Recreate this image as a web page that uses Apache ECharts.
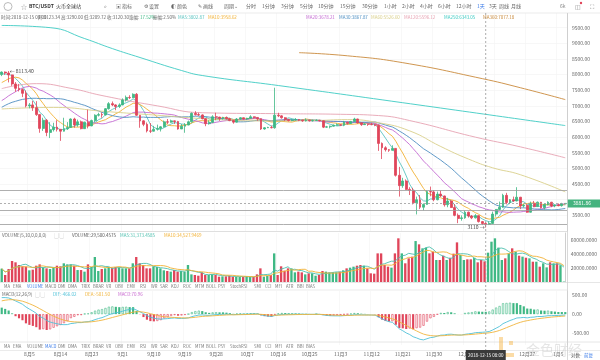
<!DOCTYPE html>
<html><head><meta charset="utf-8">
<script src="https://cdn.jsdelivr.net/npm/echarts@6/dist/echarts.min.js"></script>
<style>html,body{margin:0;padding:0;background:#fff}#c{width:600px;height:360px}</style>
</head><body><div id="c"></div><script>
// ---------- DATA ----------
const startDate = [2018, 6, 28]; // 2018-07-28 (month 0-based)
// closes of the 29 days before the visible window (for MA / MACD warm-up)
const priorCloses = [6200,6390,6350,6610,6510,6590,6540,6600,6760,6710,6660,6310,6390,6250,6230,6270,6360,6740,7320,7380,7470,7330,7400,7400,7720,8100,8050,7900,8000];
// daily candles: [open, close, low, high]
const ohlc = [
[8000,8080,7950,8100],[8080,8050,7990,8100],[8050,7990,7750,8113.4],[7990,7700,7640,8000],
[7700,7560,7450,7760],[7560,7520,7460,7700],[7520,7400,7280,7560],[7400,7000,6950,7490],
[7000,7030,6920,7090],[7030,6940,6840,7160],[6940,6720,6680,7150],[6720,6280,6140,6730],
[6280,6540,6200,6620],[6540,6150,6030,6580],[6150,6240,5970,6480],[6240,6320,6180,6460],
[6320,6250,6180,6540],[6250,6190,5880,6250],[6190,6270,6180,6620],[6270,6310,6230,6480],
[6310,6580,6300,6600],[6580,6390,6300,6620],[6390,6490,6330,6560],[6490,6270,6250,6530],
[6270,6480,6260,6490],[6480,6360,6280,6880],[6360,6530,6350,6560],[6530,6700,6480,6730],
[6700,6720,6660,6780],[6720,6710,6620,6790],[6710,6910,6690,6930],[6910,7070,6880,7120],
[7070,7030,6990,7140],[7030,6980,6860,7050],[6980,7030,6930,7080],[7030,7190,7020,7240],
[7190,7270,7140,7330],[7270,7260,7220,7340],[7260,7370,7250,7400],[7370,6700,6680,7410],
[6700,6520,6300,6710],[6520,6410,6350,6540],[6410,6200,6150,6470],[6200,6190,6130,6450],
[6190,6250,6180,6360],[6250,6280,6210,6400],[6280,6330,6180,6350],[6330,6490,6310,6530],
[6490,6480,6420,6580],[6480,6520,6460,6560],[6520,6500,6420,6530],[6500,6260,6240,6520],
[6260,6350,6260,6420],[6350,6390,6140,6450],[6390,6490,6380,6530],[6490,6760,6470,6790],
[6760,6720,6690,6830],[6720,6710,6680,6780],[6710,6590,6570,6730],[6590,6430,6350,6600],
[6430,6470,6400,6540],[6470,6650,6450,6700],[6650,6640,6540,6780],[6640,6600,6520,6650],
[6600,6630,6560,6650],[6630,6590,6560,6660],[6590,6530,6510,6620],[6530,6480,6430,6540],
[6480,6580,6470,6610],[6580,6620,6560,6640],[6620,6580,6560,6630],[6580,6600,6550,6620],
[6600,6650,6590,6700],[6650,6630,6600,6660],[6630,6590,6520,6640],[6590,6260,6230,6600],
[6260,6300,6240,6320],[6300,6310,6290,6330],[6310,6300,6280,6370],[6300,6700,6270,7580],
[6700,6680,6640,6780],[6680,6620,6590,6700],[6620,6560,6520,6640],[6560,6530,6500,6590],
[6530,6550,6510,6570],[6550,6560,6530,6610],[6560,6540,6510,6580],[6540,6520,6490,6560],
[6520,6540,6500,6600],[6540,6520,6500,6560],[6520,6530,6500,6560],[6530,6540,6520,6570],
[6540,6520,6500,6550],[6520,6320,6290,6530],[6320,6330,6300,6360],[6330,6350,6280,6370],
[6350,6380,6340,6400],[6380,6400,6370,6440],[6400,6380,6360,6410],[6380,6480,6350,6520],
[6480,6440,6400,6490],[6440,6500,6420,6520],[6500,6580,6490,6620],[6580,6460,6430,6590],
[6460,6400,6360,6470],[6400,6420,6390,6440],[6420,6410,6360,6430],[6410,6400,6380,6460],
[6400,6380,6350,6420],[6380,5800,5560,6400],[5800,5660,5300,5830],[5660,5600,5540,5710],
[5600,5580,5530,5620],[5580,5640,5570,5740],[5640,4780,4740,5650],[4780,4450,4100,5050],
[4450,4600,4380,4700],[4600,4330,4320,4650],[4330,4300,4150,4400],[4300,3900,3850,4380],
[3900,4000,3530,4100],[4000,3760,3700,4150],[3760,3850,3660,3880],[3850,4260,3840,4300],
[4260,4250,4110,4420],[4250,4000,3950,4300],[4000,4180,3980,4260],[4180,4120,4090,4290],
[4120,3840,3780,4130],[3840,3960,3760,4060],[3960,3750,3740,3980],[3750,3500,3470,3860],
[3500,3400,3250,3560],[3400,3420,3330,3500],[3420,3600,3390,3650],[3600,3480,3430,3620],
[3480,3420,3380,3510],[3420,3490,3400,3540],[3490,3300,3270,3500],[3300,3240,3190,3320],
[3240,3210,3110,3280],[3210,3240,3190,3300],[3240,3540,3230,3620],[3540,3690,3460,3700],
[3690,3760,3660,3940],[3760,4140,3740,4190],[4140,3910,3850,4220],[3910,4000,3860,4020],
[4000,3960,3930,4100],[3960,4080,3950,4400],[4080,3800,3700,4090],[3800,3820,3750,3870],
[3820,3600,3580,3860],[3600,3880,3590,3940],[3880,3780,3760,3960],[3780,3920,3770,3940],
[3920,3740,3720,3930],[3740,3850,3680,3860],[3850,3920,3820,3950],[3920,3800,3760,3930],
[3800,3830,3760,3850],[3830,3810,3790,3880],[3810,3870,3780,3900],[3870,3881.86,3860,3890]
];
// daily volume
const volumes = [
19000,10000,18600,30000,28100,24300,22400,21900,16700,17600,23300,25200,20500,19500,18600,20500,23300,22400,26700,25200,
25200,23300,17100,17100,14800,25200,21400,35700,15700,18600,19500,21400,20500,21400,20500,19500,19500,19500,26700,35700,
26700,24300,19500,19500,22400,21400,19500,16700,15700,14800,17100,14800,15700,14800,24300,10900,10000,9000,13800,10000,
10000,10900,10000,7600,8100,8100,9000,7600,7600,7100,7100,8100,7100,7100,10900,19500,7600,9000,10000,40900,
10000,22400,16200,19500,19500,13800,
14800,13800,10900,12400,12400,9000,10000,15700,14800,13800,13800,13800,14800,16700,19500,20500,21900,23300,24300,23300,
19500,12400,11900,40900,40900,24300,21900,20500,40900,62400,40900,26700,33800,36200,58500,53800,48100,49000,40900,43300,
31400,31400,37600,31400,34700,40500,56600,38600,31400,32400,32400,34700,28100,31400,29500,41900,57600,62400,49000,31400,
33800,40900,48100,43300,37600,36200,34700,33800,29000,29000,21900,26700,20900,28100,26700,26700,24000,600.54
];
// long moving averages: [dayIndex, value]
const ma60Pts  = [[0,6900],[15,6950],[30,6820],[45,6700],[60,6580],[75,6520],[90,6530],[100,6560],[109,6460],[118,6200],[127,5700],[135,5300],[142,5020],[150,4800],[163,4250]];
const ma120Pts = [[0,7550],[10,7710],[20,7560],[29,7330],[45,7000],[58,6780],[80,6750],[98,6730],[109,6690],[118,6530],[137,6000],[150,5690],[163,5340]];
const ma250Pts = [[0,9570],[14,9500],[24,9150],[32,8830],[40,8545],[52,8130],[58,7970],[80,7650],[116,7100],[163,6370]];
const ma360Pts = [[86,8700],[100,8600],[116,8380],[139,7870],[150,7580],[163,7200]];
const hoverIndex = 140;
const highIndex = 2, highValue = 8113.4;
const lowIndex = 140, lowValue = 3110;
const lastPrice = 3881.86;
const supportLines = [4314, 3673, 3224];

// ---------- COLORS ----------
const UP = '#3fb884', DOWN = '#e0455a';
const C_MA5='#5ac3c0', C_MA10='#f2b134', C_MA20='#c46ad2', C_MA30='#4f8fc2', C_MA60='#d9cf8a', C_MA120='#e7a3b2', C_MA250='#3dcbc3', C_MA360='#c98a3c';
const FONT = '"Noto Sans CJK SC","Noto Sans",sans-serif';

// ---------- DERIVED ----------
const N = ohlc.length;
const dates = [];
for (let i = 0; i < N; i++) { const d = new Date(startDate[0], startDate[1], startDate[2] + i); dates.push((d.getMonth()+1) + '月' + d.getDate()); }
const closes = ohlc.map(r => r[1]);
const allCloses = priorCloses.concat(closes);
const P = priorCloses.length;
function ma(n) {
  return closes.map((c, i) => { const j = i + P; if (j < n - 1) return '-'; let s = 0; for (let k = j - n + 1; k <= j; k++) s += allCloses[k]; return +(s / n).toFixed(2); });
}
function volMa(n) {
  return volumes.map((v, i) => { const a = Math.max(0, i - n + 1); let s = 0; for (let k = a; k <= i; k++) s += volumes[k]; return +(s / (i - a + 1)).toFixed(2); });
}
let e12 = allCloses[0], e26 = allCloses[0], dea = 0; const difA = [], deaA = [], histA = [];
allCloses.forEach((c, j) => {
  e12 = e12 * 11 / 13 + c * 2 / 13; e26 = e26 * 25 / 27 + c * 2 / 27;
  const dif = e12 - e26; dea = dea * 0.8 + dif * 0.2;
  if (j >= P) { difA.push(+dif.toFixed(2)); deaA.push(+dea.toFixed(2)); histA.push(+(2 * (dif - dea)).toFixed(2)); }
});
const histData = histA.map((v, i) => {
  const col = v >= 0 ? UP : DOWN;
  const hollow = i > 0 && v > histA[i - 1];
  return { value: v, itemStyle: hollow ? { color: '#ffffff', borderColor: col, borderWidth: 0.6 } : { color: col } };
});
const volData = volumes.map((v, i) => ({ value: v, itemStyle: { color: ohlc[i][1] >= ohlc[i][0] ? UP : DOWN } }));
const sparse = pts => pts.map(p => [p[0], p[1]]);

const GL = 0, GR = 33;
const catAxis = (gi, showLabel) => ({
  type: 'category', gridIndex: gi, data: dates, boundaryGap: true,
  axisLine: { show: false }, axisTick: { show: false },
  axisLabel: { show: showLabel, fontSize: 5, color: '#666', fontFamily: FONT, margin: 7,
    interval: (idx) => (idx - 8) % 9 === 0 },
  splitLine: { show: true, interval: (idx) => (idx - 8) % 9 === 0, lineStyle: { color: '#f4f4f4', width: 0.6 } }
});
const lineS = (name, data, color, xi, yi, smooth) => ({
  name, type: 'line', xAxisIndex: xi, yAxisIndex: yi, data, symbol: 'none', smooth: !!smooth,
  connectNulls: true, lineStyle: { color, width: 0.9 }, silent: true, z: 3
});

const option = {
  animation: false,
  backgroundColor: '#fff',
  textStyle: { fontFamily: FONT },
  grid: [
    { left: GL, right: GR, top: 12, height: 219 },
    { left: GL, right: GR, top: 233, height: 49 },
    { left: GL, right: GR, top: 291, height: 54 }
  ],
  xAxis: [catAxis(0, false), catAxis(1, false), catAxis(2, true)],
  yAxis: [
    { gridIndex: 0, position: 'right', min: 3000, max: 10000, interval: 500,
      axisLine: { show: true, lineStyle: { color: '#cfcfcf' } }, axisTick: { show: false },
      axisLabel: { fontSize: 5, color: '#666', margin: 5, formatter: v => (v >= 10000 || v <= 3000 || v === 4000) ? '' : v.toFixed(2) },
      splitLine: { lineStyle: { color: '#f2f2f2', width: 0.6 } } },
    { gridIndex: 1, position: 'right', min: 0, max: 70000, interval: 20000,
      axisLine: { show: true, lineStyle: { color: '#cfcfcf' } }, axisTick: { show: false },
      axisLabel: { fontSize: 5, color: '#666', margin: 5, formatter: v => (v === 20000 || v === 40000 || v === 60000) ? v.toFixed(4) : '' },
      splitLine: { show: false } },
    { gridIndex: 2, position: 'right', min: -800, max: 600, interval: 100,
      axisLine: { show: true, lineStyle: { color: '#cfcfcf' } }, axisTick: { show: false },
      axisLabel: { fontSize: 5, color: '#666', margin: 5, formatter: v => (v === 500 || v === 0 || v === -500) ? v.toFixed(2) : '' },
      splitLine: { show: false } }
  ],
  series: [
    { type: 'candlestick', xAxisIndex: 0, yAxisIndex: 0, data: ohlc.map(r => [r[0], r[1], r[2], r[3]]), barWidth: '68%',
      itemStyle: { color: UP, color0: DOWN, borderColor: UP, borderColor0: DOWN, borderWidth: 0.8 }, z: 4,
      markLine: { symbol: 'none', silent: true, animation: false,
        data: [
          ...supportLines.map(v => ({ yAxis: v, lineStyle: { color: '#9a9a9a', width: 0.8, type: 'solid' }, label: { show: false } })),
          { yAxis: lastPrice, lineStyle: { color: '#9a9a9a', width: 0.8, type: [2, 2] },
            label: { show: true, position: 'end', distance: 0, formatter: lastPrice.toFixed(2), fontSize: 5, color: '#fff',
              backgroundColor: '#45b37f', padding: [2, 4, 1, 6], width: 23 } }
        ] },
      markPoint: { symbol: 'circle', symbolSize: 0.1, silent: true,
        data: [
          { coord: [highIndex, highValue], label: { show: true, position: 'right', distance: 1, formatter: '← ' + highValue.toFixed(2), fontSize: 5, color: '#444' } },
          { coord: [lowIndex, lowValue], label: { show: true, position: 'left', distance: 1, formatter: String(lowValue) + ' →', fontSize: 5, color: '#444' } }
        ] } },
    lineS('MA5', ma(5), C_MA5, 0, 0),
    lineS('MA10', ma(10), C_MA10, 0, 0),
    lineS('MA20', ma(20), C_MA20, 0, 0),
    lineS('MA30', ma(30), C_MA30, 0, 0),
    lineS('MA60', sparse(ma60Pts), C_MA60, 0, 0, 0.4),
    lineS('MA120', sparse(ma120Pts), C_MA120, 0, 0, 0.4),
    lineS('MA250', sparse(ma250Pts), C_MA250, 0, 0, 0.4),
    lineS('MA360', sparse(ma360Pts), C_MA360, 0, 0, 0.4),
    { type: 'bar', xAxisIndex: 1, yAxisIndex: 1, data: volData, barWidth: '68%', silent: true,
      markLine: { symbol: 'none', silent: true, data: [{ yAxis: volumes[N - 1], lineStyle: { opacity: 0 },
        label: { show: true, position: 'end', distance: 0, formatter: volumes[N - 1].toFixed(4), fontSize: 5, color: '#fff', backgroundColor: '#f0a435', padding: [2, 4, 1, 6], width: 23 } }] } },
    lineS('VMA5', volMa(5), '#4dbfae', 1, 1),
    lineS('VMA10', volMa(10), '#f2b134', 1, 1),
    { type: 'bar', xAxisIndex: 2, yAxisIndex: 2, data: histData, barWidth: '62%', silent: true },
    lineS('DIF', difA, '#4fc1d8', 2, 2),
    lineS('DEA', deaA, '#f0b43c', 2, 2)
  ]
};
const chart = echarts.init(document.getElementById('c'));
chart.setOption(option);

// ---------- OVERLAY TEXT / UI ----------
const g = [];
const T = (x, y, text, fill, size, extra, z) => g.push(Object.assign({ type: 'text', x, y, silent: true, z: z || 20,
  style: Object.assign({ text, fill: fill || '#555', font: (size || 5) + 'px ' + FONT, textVerticalAlign: 'middle' }, extra || {}) }));
const L = (x1, y1, x2, y2, stroke, dash) => g.push({ type: 'line', silent: true, z: 15,
  shape: { x1, y1, x2, y2 }, style: { stroke: stroke || '#e3e3e3', lineWidth: 0.8, lineDash: dash || null } });
// toolbar
g.push({ type: 'rect', shape: { x: 0, y: 0, width: 600, height: 13 }, style: { fill: '#fff' }, z: 14, silent: true });
L(0, 13, 600, 13, '#e6e6e6');
g.push({ type: 'circle', shape: { cx: 8, cy: 6.5, r: 4 }, style: { fill: '#fff', stroke: '#bbb', lineWidth: 1 }, z: 20, silent: true });
T(21, 6.5, '☆', '#888', 6);
T(29, 6.5, 'BTC/USDT', '#333', 5, { font: 'bold 5px ' + FONT });
T(56, 6.5, '火币全球站', '#333', 5);
const tb = [['⌕',104],['▣ 指标',116],['⚙ 设置',144],['◐ 颜色',171],['✎ 画线',198],['周期⌄',224],['分时',246],['1分钟',262],['3分钟',281],['5分钟',300],['10分钟',318],['15分钟',340],['30分钟',362],['1小时',384],['2小时',402],['4小时',420],['6小时',438],['12小时',456],['1天',477],['3天',489],['周线',499],['月线',511]];
tb.forEach(([s, x]) => T(x, 6.5, s, s === '1天' ? '#3b7be8' : '#666', 5));
T(560, 6.5, '6k', '#888', 5); T(575, 6.5, '◫', '#888', 6); T(590, 6.5, '⛶', '#888', 6);
g.push({ type: 'circle', shape: { cx: 581, cy: 3, r: 1.2 }, style: { fill: '#e0455a' }, z: 21, silent: true });
// info row
const info = [['时间:2018-12-15 08:00', 0, '#666'], ['开:3123.34', 37, '#666'], ['高:3290.00', 60, '#666'], ['低:3209.72', 83, '#666'], ['收:3120.30', 106, '#666'],
  ['涨幅:', 128, '#666'], ['17.52%', 139, UP], ['振幅:2.50%', 152, '#666'], ['MA5:3802.87', 177, C_MA5], ['MA10:3958.62', 207, C_MA10],
  ['MA20:3678.21', 305, C_MA20], ['MA30:3867.87', 338, C_MA30], ['MA60:5526.60', 370, C_MA60], ['MA120:5596.12', 403, C_MA120], ['MA250:6343.05', 443, C_MA250], ['MA360:7077.18', 482, C_MA360]];
info.forEach(([s, x, c]) => T(x + 1, 17, s, c, 4.5));
// panel separators & right axis
L(0, 231.5, 567, 231.5, '#d8d8d8');
L(0, 282.5, 600, 282.5, '#e0e0e0');
L(0, 290, 567, 290, '#e6e6e6');
L(0, 342, 600, 342, '#e0e0e0');
L(0, 350.5, 600, 350.5, '#e6e6e6');
L(567.5, 13, 567.5, 360, '#cfcfcf');
// volume header
T(2, 235, 'VOLUME(5,10,0,0,0,0)', '#666', 4.5); T(54, 235, '▢ ▢', '#aaa', 4.5);
T(72, 235, 'VOLUME:29,500.4575', '#555', 4.5); T(120, 235, 'MA5:31,373.4585', '#4dbfae', 4.5); T(164, 235, 'MA10:34,527.9469', '#f2b134', 4.5);
// indicator tabs
const tabs = [['MA',4],['EMA',13],['VOLUME',27],['MACD',45],['DMI',58],['DMA',68],['TRIX',81],['BRAR',93],['VR',106],['OBV',115],['EMV',127],['RSI',140],['WR',151],['SAR',160],['KDJ',171],['ROC',183],['MTM',195],['BOLL',206],['PSY',218],['StochRSI',230],['SMI',254],['CCI',265],['MFI',275],['ATR',286],['BBI',297],['BIAS',306]];
tabs.forEach(([s, x]) => { T(x, 286.5, s, s === 'VOLUME' ? '#3b7be8' : '#777', 4.2); T(x, 346.5, s, s === 'MACD' ? '#3b7be8' : '#777', 4.2); });
// MACD header
T(2, 294.5, 'MACD(12,26,9)', '#666', 4.5); T(35, 294.5, '▢ ▢', '#aaa', 4.5);
T(53, 294.5, 'DIF:-466.02', '#4fc1d8', 4.5); T(85, 294.5, 'DEA:-501.50', '#f0b43c', 4.5); T(118, 294.5, 'MACD:70.96', '#c86ad0', 4.5);
// bottom right
T(571, 355, '对数', '#666', 4.5); T(584, 355, '前复', '#3b7be8', 4.5);
// watermark (bottom right)
T(526, 350, '金色财经', 'rgba(190,190,190,0.4)', 14, null, 19);
g.push({ type: 'rect', shape: { x: 499, y: 337, width: 4, height: 20 }, style: { fill: 'rgba(246,178,60,0.45)' }, z: 18, silent: true });
g.push({ type: 'rect', shape: { x: 499, y: 353, width: 15, height: 4 }, style: { fill: 'rgba(246,178,60,0.45)' }, z: 18, silent: true });
g.push({ type: 'rect', shape: { x: 509, y: 341, width: 4, height: 4 }, style: { fill: 'rgba(246,178,60,0.45)' }, z: 18, silent: true });
// crosshair at hovered day
const hx = chart.convertToPixel({ xAxisIndex: 0 }, hoverIndex);
L(hx, 13, hx, 350, '#999', [2, 2]);
g.push({ type: 'rect', shape: { x: hx - 20, y: 350, width: 40, height: 10 }, style: { fill: '#3a3a3a' }, z: 21, silent: true });
T(hx, 355, '2018-12-15 08:00', '#fff', 4.5, { textAlign: 'center' }, 23);
chart.setOption({ graphic: g });
</script></body></html>
